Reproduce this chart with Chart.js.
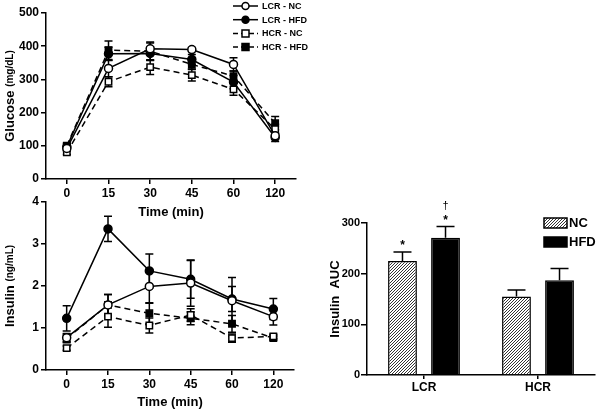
<!DOCTYPE html>
<html>
<head>
<meta charset="utf-8">
<script src="https://cdn.jsdelivr.net/npm/chart.js@4"></script>
<style>
body { margin: 0; background: #fff; }
#wrap { position: relative; width: 600px; height: 413px; }
canvas { position: absolute; }
</style>
</head>
<body>
<div id="wrap">
  <canvas id="glu" width="320" height="220" style="left:0;top:0"></canvas>
  <canvas id="ins" width="300" height="223" style="left:0;top:190px"></canvas>
  <canvas id="auc" width="300" height="223" style="left:300px;top:190px"></canvas>
</div>
<script>
// time points (min)
const times = ['0', '15', '30', '45', '60', '120'];
const groups = ['LCR - NC', 'LCR - HFD', 'HCR - NC', 'HCR - HFD'];

// glucose, mg/dL (mean, sem)
const gluLcrNc = [92, 333, 392, 390, 345, 130];
const gluLcrNcErr = [8, 25, 18, 6, 20, 8];
const gluLcrHfd = [97, 377, 378, 360, 292, 125];
const gluLcrHfdErr = [8, 20, 20, 15, 20, 12];
const gluHcrNc = [80, 293, 337, 313, 270, 150];
const gluHcrNcErr = [6, 15, 22, 18, 18, 15];
const gluHcrHfd = [100, 388, 385, 345, 310, 168];
const gluHcrHfdErr = [8, 28, 28, 15, 15, 20];

// insulin, ng/mL
const insLcrNc = [0.77, 1.55, 1.99, 2.07, 1.65, 1.27];
const insLcrNcErr = [0.1, 0.25, 0.4, 0.55, 0.55, 0.2];
const insLcrHfd = [1.23, 3.36, 2.36, 2.16, 1.69, 1.45];
const insLcrHfdErr = [0.3, 0.3, 0.4, 0.45, 0.3, 0.25];
const insHcrNc = [0.52, 1.27, 1.06, 1.31, 0.76, 0.8];
const insHcrNcErr = [0.05, 0.25, 0.18, 0.15, 0.1, 0.05];
const insHcrHfd = [0.75, 1.55, 1.35, 1.23, 1.1, 0.76];
const insHcrHfdErr = [0.1, 0.25, 0.25, 0.15, 0.2, 0.05];

// insulin AUC
const strains = ['LCR', 'HCR'];
const aucNc = [225, 155];
const aucNcErr = [18, 13];
const aucHfd = [271, 187];
const aucHfdErr = [22, 23];
const aucMarksNc = ['*', ''];
const aucMarksHfd = ['* †', ''];

const FONT = 'Liberation Sans, Arial, sans-serif';
Chart.defaults.font.family = FONT;
Chart.defaults.color = '#000';

const styles = [
  { pointStyle: 'circle', fill: '#fff', dash: [] },
  { pointStyle: 'circle', fill: '#000', dash: [] },
  { pointStyle: 'rect', fill: '#fff', dash: [6, 4] },
  { pointStyle: 'rect', fill: '#000', dash: [6, 4] },
];

function lineSets(values, errs) {
  return values.map((v, i) => ({
    label: groups[i],
    data: v,
    errors: errs[i],
    borderColor: '#000',
    borderWidth: 1.5,
    borderDash: styles[i].dash,
    pointStyle: styles[i].pointStyle,
    pointRadius: styles[i].pointStyle === 'rect' ? 4.5 : 4,
    pointBackgroundColor: styles[i].fill,
    pointBorderColor: '#000',
    pointBorderWidth: 1.5,
    tension: 0,
  }));
}

// error bars drawn from the data through the y scale
const errorBars = {
  id: 'errorBars',
  beforeDatasetsDraw(chart, args, opts) {
    const ctx = chart.ctx, y = chart.scales.y;
    ctx.save();
    ctx.strokeStyle = '#000';
    ctx.lineWidth = 1.5;
    chart.data.datasets.forEach((ds, di) => {
      if (!ds.errors) return;
      chart.getDatasetMeta(di).data.forEach((el, j) => {
        const v = ds.data[j], e = ds.errors[j];
        const top = y.getPixelForValue(v + e);
        const bot = opts.upOnly ? y.getPixelForValue(v) : y.getPixelForValue(v - e);
        const w = opts.cap / 2;
        ctx.beginPath();
        ctx.moveTo(el.x, bot); ctx.lineTo(el.x, top);
        ctx.moveTo(el.x - w, top); ctx.lineTo(el.x + w, top);
        if (!opts.upOnly) { ctx.moveTo(el.x - w, bot); ctx.lineTo(el.x + w, bot); }
        ctx.stroke();
      });
    });
    ctx.restore();
  }
};

// rotated y title with two font sizes
const yTitle = {
  id: 'yTitle',
  afterDraw(chart, args, opts) {
    if (!opts.parts) return;
    const ctx = chart.ctx;
    const a = chart.chartArea;
    ctx.save();
    let total = 0;
    opts.parts.forEach(p => { ctx.font = p[1]; total += ctx.measureText(p[0]).width; });
    ctx.translate(opts.x, (a.top + a.bottom) / 2);
    ctx.rotate(-Math.PI / 2);
    ctx.textBaseline = 'middle';
    ctx.fillStyle = '#000';
    let x = -total / 2;
    opts.parts.forEach(p => {
      ctx.font = p[1];
      ctx.fillText(p[0], x, 0);
      x += ctx.measureText(p[0]).width;
    });
    ctx.restore();
  }
};

const lineLegend = {
  id: 'lineLegend',
  afterDraw(chart, args, opts) {
    if (!opts.show) return;
    const ctx = chart.ctx;
    ctx.save();
    groups.forEach((g, i) => {
      const yy = 6 + i * 13.7;
      ctx.strokeStyle = '#000';
      ctx.lineWidth = 1.5;
      ctx.setLineDash(styles[i].dash.length ? [5, 3] : []);
      ctx.beginPath(); ctx.moveTo(233, yy); ctx.lineTo(258, yy); ctx.stroke();
      ctx.setLineDash([]);
      ctx.fillStyle = styles[i].fill;
      ctx.beginPath();
      if (styles[i].pointStyle === 'rect') ctx.rect(242, yy - 3.5, 7, 7);
      else ctx.arc(245.5, yy, 3.5, 0, Math.PI * 2);
      ctx.fill(); ctx.stroke();
      ctx.fillStyle = '#000';
      ctx.font = 'bold 9px ' + FONT;
      ctx.textBaseline = 'middle';
      ctx.fillText(g, 262, yy + 0.5);
    });
    ctx.restore();
  }
};

function lineOptions(yMax, yStep, titleParts, legend) {
  return {
    responsive: false,
    devicePixelRatio: 1,
    animation: false,
    layout: { padding: { top: 12, right: 4, bottom: 3, left: 0 } },
    plugins: {
      legend: { display: false },
      tooltip: { enabled: false },
      yTitle: { parts: titleParts, x: 10 },
      lineLegend: { show: legend },
      errorBars: { cap: 8, upOnly: false },
    },
    scales: {
      x: {
        type: 'category',
        offset: true,
        grid: { display: true, drawOnChartArea: false, offset: false, color: '#000', lineWidth: 1.5, tickLength: 5 },
        border: { color: '#000', width: 1.5 },
        ticks: { font: { size: 12, weight: 'bold' }, padding: 2 },
        title: { display: true, text: 'Time (min)', font: { size: 13, weight: 'bold' }, padding: 0 },
        afterFit(s) { s.height = 40; },
      },
      y: {
        min: 0, max: yMax,
        grid: { display: true, drawOnChartArea: false, color: '#000', lineWidth: 1.5, tickLength: 5 },
        border: { color: '#000', width: 1.5 },
        ticks: { stepSize: yStep, font: { size: 12, weight: 'bold' }, padding: 2 },
        afterFit(s) { s.width = 46; },
      },
    },
  };
}

const gluOpts = lineOptions(500, 100,
  [['Glucose ', 'bold 13px ' + FONT], ['(mg/dL)', 'bold 10px ' + FONT]], true);
gluOpts.layout.padding = { top: 13, right: 24, bottom: 0, left: 0 };
gluOpts.scales.x.afterFit = s => { s.height = 41; };

new Chart(document.getElementById('glu'), {
  type: 'line',
  data: {
    labels: times,
    datasets: lineSets([gluLcrNc, gluLcrHfd, gluHcrNc, gluHcrHfd],
      [gluLcrNcErr, gluLcrHfdErr, gluHcrNcErr, gluHcrHfdErr]),
  },
  options: gluOpts,
  plugins: [errorBars, yTitle, lineLegend],
});

new Chart(document.getElementById('ins'), {
  type: 'line',
  data: {
    labels: times,
    datasets: lineSets([insLcrNc, insLcrHfd, insHcrNc, insHcrHfd],
      [insLcrNcErr, insLcrHfdErr, insHcrNcErr, insHcrHfdErr]),
  },
  options: lineOptions(4, 1,
    [['Insulin ', 'bold 13px ' + FONT], ['(ng/mL)', 'bold 10px ' + FONT]], false),
  plugins: [errorBars, yTitle, lineLegend],
});

// hatched fill for NC bars
function hatch() {
  const c = document.createElement('canvas');
  c.width = 3; c.height = 3;
  const g = c.getContext('2d');
  g.fillStyle = '#fff'; g.fillRect(0, 0, 3, 3);
  g.fillStyle = '#333';
  g.fillRect(2, 0, 1, 1);
  g.fillRect(1, 1, 1, 1);
  g.fillRect(0, 2, 1, 1);
  return g.createPattern(c, 'repeat');
}
const hatchFill = hatch();

const barExtras = {
  id: 'barExtras',
  afterDraw(chart) {
    const ctx = chart.ctx, y = chart.scales.y;
    ctx.save();
    ctx.fillStyle = '#000';
    ctx.textAlign = 'center';
    ctx.textBaseline = 'middle';
    chart.data.datasets.forEach((ds, di) => {
      chart.getDatasetMeta(di).data.forEach((el, j) => {
        const m = ds.marks[j];
        if (!m) return;
        const top = y.getPixelForValue(ds.data[j] + ds.errors[j]);
        m.split(' ').forEach((p, k) => {
          ctx.font = (p === '†' ? '11px ' : 'bold 12px ') + FONT;
          ctx.fillText(p, el.x, top - 6 - k * 15);
        });
      });
    });
    // legend
    const items = [['NC', hatchFill, 28], ['HFD', '#000', 47]];
    items.forEach(it => {
      ctx.fillStyle = it[1];
      ctx.fillRect(244, it[2], 23, 10);
      ctx.strokeStyle = '#000'; ctx.lineWidth = 1.5;
      ctx.strokeRect(244, it[2], 23, 10);
      ctx.fillStyle = '#000';
      ctx.textAlign = 'left';
      ctx.font = 'bold 13px ' + FONT;
      ctx.fillText(it[0], 269, it[2] + 5.5);
    });
    ctx.restore();
  }
};

new Chart(document.getElementById('auc'), {
  type: 'bar',
  data: {
    labels: strains,
    datasets: [
      { label: 'NC', data: aucNc, errors: aucNcErr, marks: aucMarksNc,
        backgroundColor: hatchFill, borderColor: '#000', borderWidth: 1.5,
        barPercentage: 0.67, categoryPercentage: 0.755 },
      { label: 'HFD', data: aucHfd, errors: aucHfdErr, marks: aucMarksHfd,
        backgroundColor: '#000', borderColor: '#000', borderWidth: 1.5,
        barPercentage: 0.67, categoryPercentage: 0.755 },
    ],
  },
  options: {
    responsive: false,
    devicePixelRatio: 1,
    animation: false,
    layout: { padding: { top: 33, right: 5, bottom: 8, left: 0 } },
    plugins: {
      legend: { display: false },
      tooltip: { enabled: false },
      errorBars: { cap: 18, upOnly: true },
    },
    scales: {
      x: {
        grid: { display: true, drawOnChartArea: false, offset: false, color: '#000', lineWidth: 1.5, tickLength: 4 },
        border: { color: '#000', width: 1.5 },
        ticks: { font: { size: 12, weight: 'bold' }, padding: 1 },
        afterFit(s) { s.height = 30; },
      },
      y: {
        min: 0, max: 300,
        grid: { display: true, drawOnChartArea: false, color: '#000', lineWidth: 1.5, tickLength: 6 },
        border: { color: '#000', width: 1.5 },
        ticks: { stepSize: 100, font: { size: 11, weight: 'bold' }, padding: 1 },
        title: { display: true, text: 'Insulin  AUC', font: { size: 13, weight: 'bold' }, padding: { top: 28, bottom: 0 } },
        afterFit(s) { s.width = 67; },
      },
    },
  },
  plugins: [errorBars, barExtras],
});
</script>
</body>
</html>
